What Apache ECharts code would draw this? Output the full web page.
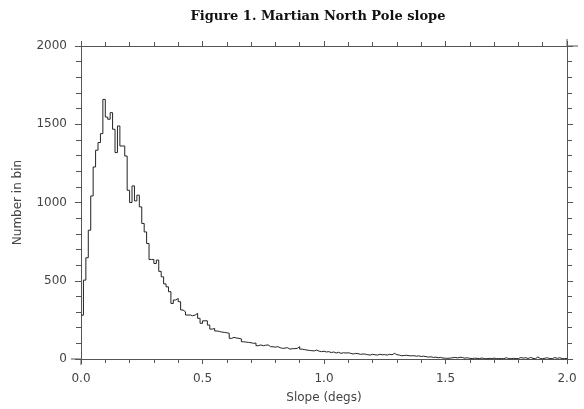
<!DOCTYPE html>
<html>
<head>
<meta charset="utf-8">
<script src="https://cdn.jsdelivr.net/npm/echarts@6/dist/echarts.min.js"></script>
<style>
html,body{margin:0;padding:0;background:#fff;}
#c{width:584px;height:409px;}
</style>
</head>
<body>
<div id="c"></div>
<script>
var titleText = "Figure 1. Martian North Pole slope";
var xName = "Slope (degs)";
var yName = "Number in bin";
var xTicks = [0.0, 0.5, 1.0, 1.5, 2.0];
var yTicks = [0, 500, 1000, 1500, 2000];
var binStart = 0.0;
var binWidth = 0.01;
var counts = [
 280, 504, 647, 823, 1042, 1227, 1334, 1383, 1440, 1659,
 1546, 1532, 1574, 1468, 1319, 1489, 1361, 1361, 1297, 1078,
 1000, 1106, 1010, 1047, 972, 866, 812, 738, 636, 636,
 610, 632, 560, 525, 480, 461, 430, 355, 377, 387,
 366, 313, 302, 281, 281, 276, 281, 292, 260, 228,
 244, 244, 217, 191, 195, 179, 176, 172, 170, 168,
 164, 132, 138, 134, 132, 128, 110, 108, 106, 104,
 100, 102, 85, 90, 85, 88, 90, 79, 78, 76,
 79, 72, 68, 70, 72, 63, 66, 66, 68, 79,
 63, 60, 57, 55, 53, 52, 57, 50, 47, 50,
 45, 47, 41, 45, 38, 43, 36, 40, 38, 40,
 36, 32, 36, 34, 30, 32, 31, 27, 25, 30,
 27, 25, 30, 27, 28, 25, 30, 27, 36, 28,
 25, 21, 22, 24, 21, 20, 21, 18, 20, 16,
 18, 15, 12, 14, 10, 12, 8, 10, 6, 5,
 4, 6, 8, 10, 7, 11, 9, 5, 8, 4,
 3, 5, 4, 3, 6, 3, 2, 4, 3, 5,
 3, 2, 3, 2, 8, 3, 2, 4, 2, 3,
 9, 6, 8, 3, 10, 4, 2, 13, 3, 2,
 5, 8, 2, 3, 9, 4, 8, 3, 2, 4
];

var pts = [];
for (var i = 0; i < counts.length; i++) {
  pts.push([+(binStart + i * binWidth).toFixed(4), counts[i]]);
}
pts.push([+(binStart + counts.length * binWidth).toFixed(4), counts[counts.length - 1]]);

var axisCol = '#555';
var textCol = '#444';
var font = 'DejaVu Sans';

function xAx(pos, showLabel) {
  return {
    type: 'value', position: pos,
    min: xTicks[0], max: xTicks[xTicks.length - 1], interval: xTicks[1] - xTicks[0],
    name: showLabel ? xName : '', nameLocation: 'middle', nameGap: 33,
    nameTextStyle: {color: textCol, fontFamily: font, fontSize: 12},
    axisLine: {show: true, onZero: false, lineStyle: {color: axisCol, width: 1}},
    axisTick: {show: true, inside: false, length: 5, lineStyle: {color: axisCol}},
    minorTick: {show: true, splitNumber: 5, length: 4, lineStyle: {color: axisCol}},
    splitLine: {show: false}, minorSplitLine: {show: false},
    axisLabel: {show: showLabel, margin: 14, color: textCol, fontFamily: font, fontSize: 12,
      formatter: function (v) { return v.toFixed(1); }}
  };
}
function yAx(pos, showLabel) {
  return {
    type: 'value', position: pos,
    min: yTicks[0], max: yTicks[yTicks.length - 1], interval: yTicks[1] - yTicks[0],
    name: showLabel ? yName : '', nameLocation: 'middle', nameGap: 57,
    nameTextStyle: {color: textCol, fontFamily: font, fontSize: 12},
    axisLine: {show: true, onZero: false, lineStyle: {color: axisCol, width: 1}},
    axisTick: {show: true, inside: false, length: 6, lineStyle: {color: axisCol}},
    minorTick: {show: true, splitNumber: 5, length: 5, lineStyle: {color: axisCol}},
    splitLine: {show: false}, minorSplitLine: {show: false},
    axisLabel: {show: showLabel, margin: 14, color: textCol, fontFamily: font, fontSize: 12,
      formatter: function (v) { return String(v); }}
  };
}

var chart = echarts.init(document.getElementById('c'), null, {renderer: 'canvas'});
chart.setOption({
  animation: false,
  backgroundColor: '#fff',
  title: {
    text: titleText, left: 313, top: 5, textAlign: 'center',
    textStyle: {fontFamily: 'DejaVu Serif', fontWeight: 'bold', fontSize: 13, color: '#111'}
  },
  grid: {left: 81, right: 17, top: 46, bottom: 50},
  xAxis: [xAx('bottom', true), xAx('top', false)],
  yAxis: [yAx('left', true), yAx('right', false)],
  series: [{
    type: 'line', step: 'end', symbol: 'none', data: pts,
    xAxisIndex: 0, yAxisIndex: 0,
    lineStyle: {color: '#222', width: 1}
  }]
});

var p0 = chart.convertToPixel({xAxisIndex: 0, yAxisIndex: 0}, [xTicks[0], yTicks[0]]);
var p1 = chart.convertToPixel({xAxisIndex: 0, yAxisIndex: 0}, [xTicks[xTicks.length - 1], yTicks[yTicks.length - 1]]);
var ls = {stroke: axisCol, lineWidth: 1};
chart.setOption({
  graphic: [
    {type: 'line', shape: {x1: p0[0] - 10, y1: p0[1], x2: p0[0], y2: p0[1]}, style: ls},
    {type: 'line', shape: {x1: p0[0], y1: p0[1], x2: p0[0], y2: p0[1] + 6}, style: ls},
    {type: 'line', shape: {x1: p1[0], y1: p1[1], x2: p1[0] + 11, y2: p1[1]}, style: ls},
    {type: 'line', shape: {x1: p1[0], y1: p1[1], x2: p1[0], y2: p1[1] - 7}, style: ls}
  ]
});
</script>
</body>
</html>
